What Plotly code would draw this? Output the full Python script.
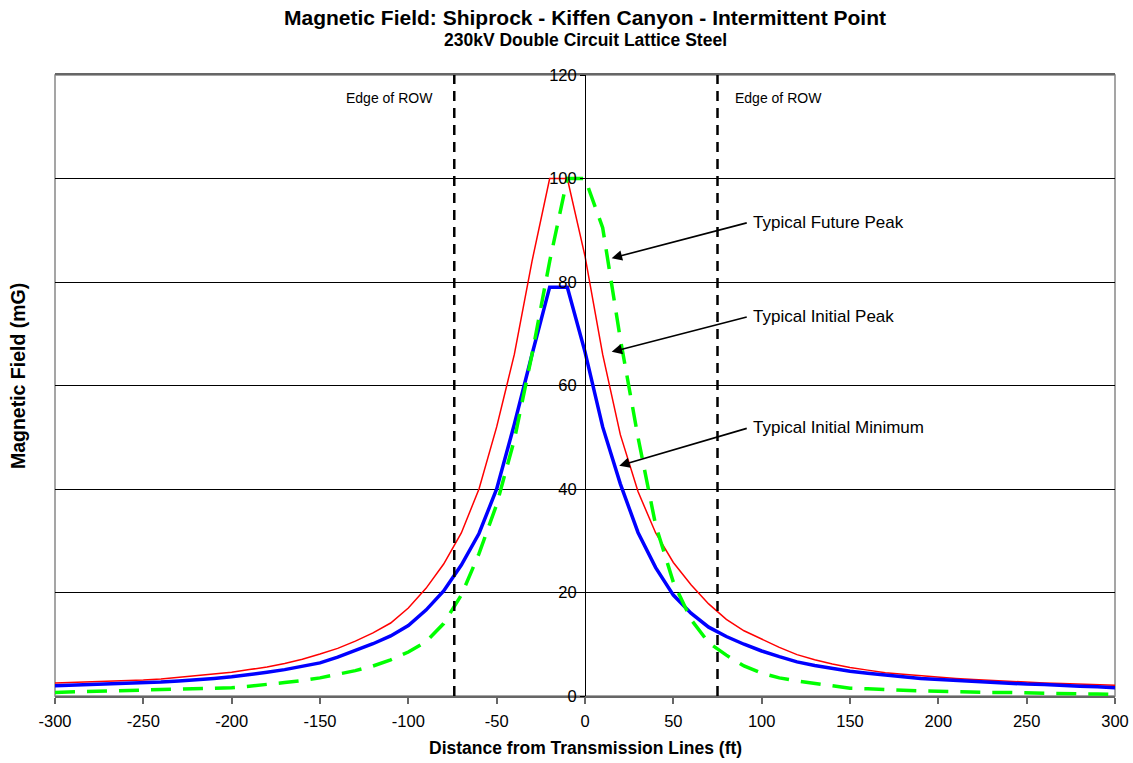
import plotly.graph_objects as go

# distance from centerline (ft)
distance = [-300, -290, -280, -270, -260, -250, -240, -230, -220, -210,
            -200, -190, -180, -170, -160, -150, -140, -130, -120, -110,
            -100, -90, -80, -70, -60, -50, -40, -30, -20, -10,
            0, 10, 20, 30, 40, 50, 60, 70, 80, 90,
            100, 110, 120, 130, 140, 150, 160, 170, 180, 190,
            200, 210, 220, 230, 240, 250, 260, 270, 280, 290, 300]

# magnetic field (mG)
initial_peak = [2.5, 2.6, 2.7, 2.8, 3.0, 3.1, 3.3, 3.6, 3.9, 4.2,
                4.6, 5.1, 5.6, 6.3, 7.1, 8.1, 9.2, 10.6, 12.2, 14.1,
                17.0, 20.8, 25.5, 31.5, 40.0, 52.0, 66.0, 84.0, 100.0, 100.0,
                85.0, 66.0, 50.5, 39.5, 31.5, 25.8, 21.5, 17.8, 14.8, 12.6,
                11.0, 9.4, 8.0, 7.0, 6.2, 5.5, 5.0, 4.5, 4.2, 3.9,
                3.7, 3.4, 3.2, 3.0, 2.8, 2.6, 2.5, 2.4, 2.3, 2.2, 2.1]

initial_min = [2.0, 2.1, 2.2, 2.3, 2.4, 2.5, 2.7, 2.9, 3.1, 3.4,
               3.7, 4.1, 4.6, 5.1, 5.7, 6.4, 7.5, 8.8, 10.1, 11.6,
               13.6, 16.6, 20.3, 25.3, 31.4, 40.0, 52.5, 66.0, 79.0, 79.0,
               66.5, 52.0, 41.0, 31.6, 24.8, 19.5, 16.0, 13.3, 11.5, 10.0,
               8.7, 7.6, 6.6, 5.9, 5.3, 4.8, 4.4, 4.0, 3.7, 3.4,
               3.2, 3.0, 2.8, 2.6, 2.5, 2.3, 2.2, 2.0, 1.9, 1.8, 1.6]

future_peak = [0.7, 0.8, 0.8, 0.9, 1.0, 1.1, 1.2, 1.3, 1.4, 1.5,
               1.6, 1.9, 2.2, 2.6, 3.0, 3.5, 4.2, 4.9, 5.8, 7.0,
               8.5, 10.5, 14.0, 19.5, 27.5, 37.0, 49.5, 66.0, 84.0, 100.0,
               100.0, 90.5, 69.0, 50.0, 33.0, 22.0, 14.8, 10.3, 7.9, 5.8,
               4.4, 3.5, 2.9, 2.4, 2.0, 1.5, 1.4, 1.2, 1.1, 1.0,
               0.9, 0.8, 0.8, 0.7, 0.7, 0.6, 0.5, 0.5, 0.4, 0.4, 0.3]

row_edges = [-74, 75]

x_ticks = [-300, -250, -200, -150, -100, -50, 0, 50, 100, 150, 200, 250, 300]
x_tick_labels = ["-300", "-250", "-200", "-150", "-100", "-50", "0",
                 "50", "100", "150", "200", "250", "300"]
y_ticks = [0, 20, 40, 60, 80, 100, 120]

FONT = "Liberation Sans, Arial, sans-serif"

fig = go.Figure()
fig.add_trace(go.Scatter(x=distance, y=initial_peak, mode="lines",
                         line=dict(color="#ff0000", width=1.5)))
fig.add_trace(go.Scatter(x=distance, y=initial_min, mode="lines",
                         line=dict(color="#0000ff", width=3.5)))
fig.add_trace(go.Scatter(x=distance, y=future_peak, mode="lines",
                         line=dict(color="#00ff00", width=3.5, dash="20px,12px")))
for e in row_edges:
    fig.add_trace(go.Scatter(x=[e, e], y=[0, 120], mode="lines",
                             line=dict(color="black", width=2.5, dash="10px,7px")))

# plot border
fig.add_shape(type="rect", xref="paper", yref="paper", x0=0, x1=1, y0=0, y1=1,
              line=dict(color="#888888", width=1.5), layer="below")

ann = []
ann.append(dict(x=0.5, y=1.0918, xref="paper", yref="paper", showarrow=False,
                xanchor="center", yanchor="middle",
                text="<b>Magnetic Field: Shiprock - Kiffen Canyon - Intermittent Point</b>",
                font=dict(size=21, family=FONT, color="black")))
ann.append(dict(x=0.5, y=1.0564, xref="paper", yref="paper", showarrow=False,
                xanchor="center", yanchor="middle",
                text="<b>230kV Double Circuit Lattice Steel</b>",
                font=dict(size=17.5, family=FONT, color="black")))
ann.append(dict(x=-0.035, y=0.515, xref="paper", yref="paper", showarrow=False,
                xanchor="center", yanchor="middle",
                text="<b>Magnetic Field (mG)</b>", textangle=-90,
                font=dict(size=19.5, family=FONT, color="black")))
ann.append(dict(x=0.5, y=-0.084, xref="paper", yref="paper", showarrow=False,
                xanchor="center", yanchor="middle",
                text="<b>Distance from Transmission Lines (ft)</b>",
                font=dict(size=17.5, family=FONT, color="black")))
ann.append(dict(x=-85, y=115.6, xanchor="right", yanchor="middle", showarrow=False,
                text="Edge of ROW", font=dict(size=14, family=FONT, color="black")))
ann.append(dict(x=84, y=115.6, xanchor="left", yanchor="middle", showarrow=False,
                text="Edge of ROW", font=dict(size=14, family=FONT, color="black")))

labels = [("Typical Future Peak", 15.1, 84.6, 92.4, 91.5),
          ("Typical Initial Peak", 15.1, 66.5, 92.4, 73.3),
          ("Typical Initial Minimum", 19.4, 44.5, 92.4, 51.8)]
for txt, tx, ty, lx, ly in labels:
    ann.append(dict(x=tx, y=ty, ax=lx, ay=ly, axref="x", ayref="y", text="",
                    showarrow=True, arrowhead=2, arrowsize=1.3, arrowwidth=1.6,
                    arrowcolor="black"))
    ann.append(dict(x=lx + 1.5, y=ly, xanchor="left", yanchor="middle",
                    showarrow=False, text=txt,
                    font=dict(size=17, family=FONT, color="black")))

fig.update_layout(
    width=1133, height=763,
    margin=dict(l=55, r=18, t=75, b=67, autoexpand=False),
    paper_bgcolor="white", plot_bgcolor="white",
    showlegend=False,
    font=dict(family=FONT, color="black", size=16),
    annotations=ann,
    xaxis=dict(range=[-300, 300], tickvals=x_ticks, ticktext=x_tick_labels,
               automargin=False,
               ticks="outside", ticklen=6, tickcolor="#666666", tickwidth=1.5,
               showline=True, linecolor="#666666", linewidth=1.5, mirror=True,
               showgrid=False, zeroline=False, ticklabelstandoff=3,
               tickfont=dict(size=16.5, family=FONT, color="black")),
    yaxis=dict(range=[0, 120], tickvals=y_ticks, anchor="free", position=0.5,
               automargin=False,
               ticks="outside", ticklen=5, tickcolor="black",
               showline=True, linecolor="black", linewidth=1,
               showgrid=True, gridcolor="black", gridwidth=1, zeroline=False,
               tickfont=dict(size=16.5, family=FONT, color="black")),
)

# drop the page's default 8px body margin so the figure fills the window
fig.write_html("out.html", config={"displayModeBar": False},
               post_script="document.body.style.margin='0';document.body.style.overflow='hidden';")
